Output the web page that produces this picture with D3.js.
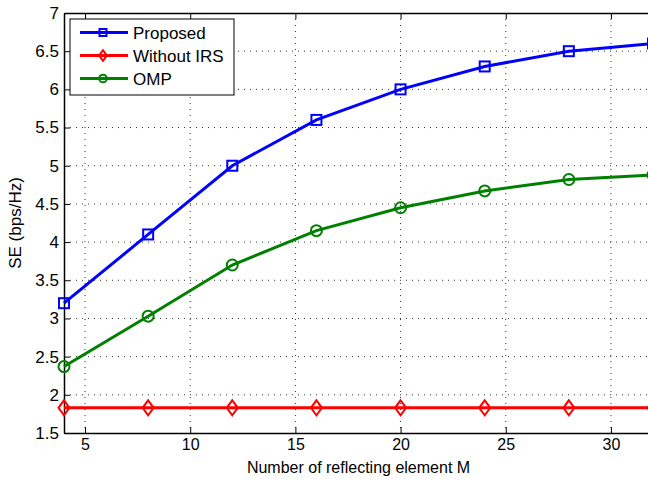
<!DOCTYPE html>
<html>
<head>
<meta charset="utf-8">
<script src="https://cdn.jsdelivr.net/npm/d3@7"></script>
<style>
  body { margin: 0; background: #fff; }
  svg { font-family: "Liberation Sans", Arial, sans-serif; }
</style>
</head>
<body>
<div id="chart"></div>
<script>
// data
const mValues = [4, 8, 12, 16, 20, 24, 28, 32];
const proposed = [3.2, 4.1, 5.0, 5.6, 6.0, 6.3, 6.5, 6.6];
const withoutIRS = [1.83, 1.83, 1.83, 1.83, 1.83, 1.83, 1.83, 1.83];
const omp = [2.37, 3.03, 3.70, 4.15, 4.45, 4.67, 4.82, 4.88];
const xTicks = [5, 10, 15, 20, 25, 30];
const yTicks = [1.5, 2, 2.5, 3, 3.5, 4, 4.5, 5, 5.5, 6, 6.5, 7];

const series = [
    {name: "Proposed", values: proposed, color: "#0000ff", marker: "square"},
    {name: "Without IRS", values: withoutIRS, color: "#ff0000", marker: "diamond"},
    {name: "OMP", values: omp, color: "#008000", marker: "circle"}
];

var margin = {top: 13, right: -5, bottom: 46, left: 64},
    width = 648 - margin.left - margin.right,
    height = 479 - margin.top - margin.bottom;

var svg = d3.select("#chart")
    .append("svg")
    .attr("width", 648)
    .attr("height", 479);

var g = svg.append("g")
    .attr("transform", "translate(" + margin.left + "," + margin.top + ")");

var x = d3.scaleLinear().domain([4, 32]).range([0, width]);
var y = d3.scaleLinear().domain([1.5, 7]).range([height, 0]);

// dotted grid
g.append("g")
    .selectAll("line")
    .data(xTicks)
    .enter().append("line")
    .attr("x1", d => x(d)).attr("x2", d => x(d))
    .attr("y1", 0).attr("y2", height)
    .attr("stroke", "#333").attr("stroke-width", 1)
    .attr("stroke-dasharray", "1,5");

g.append("g")
    .selectAll("line")
    .data(yTicks.slice(1, -1))
    .enter().append("line")
    .attr("x1", 0).attr("x2", width)
    .attr("y1", d => y(d)).attr("y2", d => y(d))
    .attr("stroke", "#333").attr("stroke-width", 1)
    .attr("stroke-dasharray", "1,5");

// axes, ticks pointing inward
var fmt = d => String(d);
var xAxis = g.append("g")
    .attr("transform", "translate(0," + height + ")")
    .call(d3.axisBottom(x).tickValues(xTicks).tickSizeInner(-6).tickSizeOuter(0).tickPadding(6).tickFormat(fmt));
var xTop = g.append("g")
    .call(d3.axisTop(x).tickValues(xTicks).tickSizeInner(-6).tickSizeOuter(0).tickFormat(""));
var yAxis = g.append("g")
    .call(d3.axisLeft(y).tickValues(yTicks).tickSizeInner(-6).tickSizeOuter(0).tickPadding(5).tickFormat(fmt));

[xAxis, xTop, yAxis].forEach(function(a) {
    a.select(".domain").attr("stroke", "#000").attr("stroke-width", 1.5);
    a.selectAll(".tick line").attr("stroke", "#000").attr("stroke-width", 1);
    a.selectAll("text").attr("fill", "#000").style("font-size", "17px")
        .style("font-family", "'Liberation Sans', Arial, sans-serif");
});
xAxis.selectAll("text").style("font-size", "16px");

// axis labels
svg.append("text")
    .attr("x", margin.left + x(18))
    .attr("y", 473)
    .attr("text-anchor", "middle")
    .style("font-size", "16px")
    .text("Number of reflecting element M");

svg.append("text")
    .attr("transform", "translate(21," + (margin.top + height / 2) + ")rotate(-90)")
    .attr("text-anchor", "middle")
    .style("font-size", "17px")
    .text("SE (bps/Hz)");

var line = d3.line()
    .x((d, i) => x(mValues[i]))
    .y(d => y(d));

function drawMarker(sel, type, color, s) {
    if (type === "square") {
        sel.append("rect")
            .attr("x", -5 * s).attr("y", -5 * s).attr("width", 10 * s).attr("height", 10 * s)
            .attr("fill", "none").attr("stroke", color).attr("stroke-width", 2);
    } else if (type === "diamond") {
        sel.append("path")
            .attr("d", "M0," + (-7.5 * s) + "L" + (5.5 * s) + ",0L0," + (7.5 * s) + "L" + (-5.5 * s) + ",0Z")
            .attr("fill", "none").attr("stroke", color).attr("stroke-width", 2);
    } else {
        sel.append("circle")
            .attr("r", 5.5 * s)
            .attr("fill", "none").attr("stroke", color).attr("stroke-width", 2);
    }
}

series.forEach(function(s) {
    g.append("path")
        .datum(s.values)
        .attr("fill", "none")
        .attr("stroke", s.color)
        .attr("stroke-width", 3)
        .attr("d", line);

    g.selectAll(null)
        .data(s.values)
        .enter().append("g")
        .attr("transform", (d, i) => "translate(" + x(mValues[i]) + "," + y(d) + ")")
        .each(function() { drawMarker(d3.select(this), s.marker, s.color, 1); });
});

// legend
var legend = svg.append("g").attr("transform", "translate(70,19)");
legend.append("rect")
    .attr("width", 164).attr("height", 76)
    .attr("fill", "#fff").attr("stroke", "#000").attr("stroke-width", 1);

series.forEach(function(s, i) {
    var row = legend.append("g").attr("transform", "translate(0," + (13.5 + i * 23) + ")");
    row.append("line")
        .attr("x1", 10).attr("x2", 58)
        .attr("stroke", s.color).attr("stroke-width", 3);
    var m = row.append("g").attr("transform", "translate(33,0)");
    drawMarker(m, s.marker, s.color, 0.7);
    row.append("text")
        .attr("x", 63).attr("y", 6)
        .style("font-size", "17px")
        .text(s.name);
});
</script>
</body>
</html>
